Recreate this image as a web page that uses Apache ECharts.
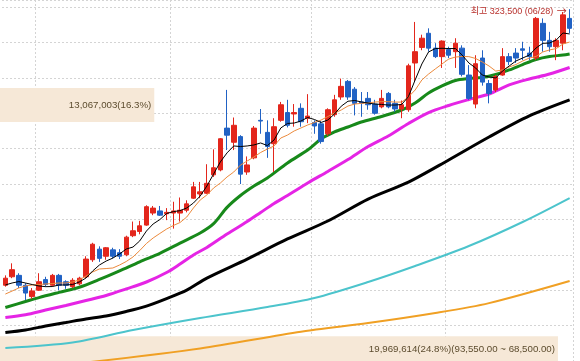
<!DOCTYPE html>
<html><head><meta charset="utf-8">
<script src="https://cdn.jsdelivr.net/npm/echarts@6/dist/echarts.min.js"></script>
<style>html,body{margin:0;padding:0;background:#fff;overflow:hidden}#c{width:580px;height:361px}</style>
</head><body><div id="c"></div>
<script>
// ---- categories (trading days) ----
const dates = [
'02/23','02/26','02/27','02/28','02/29',
'03/04','03/05','03/06','03/07','03/08','03/11','03/12','03/13','03/14','03/15','03/18','03/19','03/20','03/21','03/22','03/25','03/26','03/27','03/28','03/29',
'04/01','04/02','04/03','04/04','04/05','04/08','04/09','04/11','04/12','04/15','04/16','04/17','04/18','04/19','04/22','04/23','04/24','04/25','04/26','04/29','04/30',
'05/02','05/03','05/07','05/08','05/09','05/10','05/13','05/14','05/16','05/17','05/20','05/21','05/22','05/23','05/24','05/27','05/28','05/29','05/30','05/31',
'06/03','06/04','06/05','06/07','06/10','06/11','06/12','06/13','06/14','06/17','06/18','06/19','06/20','06/21','06/24','06/25','06/26','06/27','06/28'];

// ---- daily candles: [open, close, low, high] ----
const candles = [
[128500,133500,127500,135500],[134500,139500,133500,144000],[135500,128500,126500,137000],[128500,123000,118000,130000],[120500,124500,119000,126500],
[125000,131000,124500,137000],[132500,129000,127500,134500],[128500,135500,127500,136500],[135500,128500,125000,136500],[131000,128500,126000,132000],
[127500,132000,126500,133500],[129500,133500,128500,134500],[134500,147000,133500,149000],[146500,157500,145000,158500],[154000,147500,145000,156000],
[149000,155000,146500,155500],[153500,149000,147500,155000],[151500,149000,147000,154000],[150000,162500,149000,163500],[163500,167000,162500,173500],
[166500,170500,164500,174000],[171000,184000,170500,185000],[179500,183000,178000,184500],[181000,178000,177500,184500],[179000,180000,174500,183000],
[179500,181000,168500,187500],[179500,181500,173500,190500],[181500,186000,180000,188500],[190000,198000,189500,201500],[193000,194500,190000,201500],
[193500,200500,193000,214000],[206500,211500,205000,224500],[210000,232000,209000,232500],[239500,234500,224000,266500],[229500,241500,224000,247000],
[233500,207000,200000,234500],[208500,213500,206500,219500],[218500,239500,217500,241000],[245000,244500,235500,253000],[236500,226500,218500,245000],
[228500,240500,208500,246500],[245000,256000,244000,258000],[250500,241500,240000,259500],[249500,250500,240500,256500],[253500,244000,240500,257000],
[246500,248000,243000,263500],[243500,241000,235500,245000],[242500,230000,228500,244500],[235500,252500,234000,253500],[249000,259500,247500,263000],
[261500,269000,259500,274500],[272500,261500,259500,273500],[267000,257000,248500,268500],[258000,257000,247500,265000],[260500,256000,252500,265000],
[256500,250000,249000,259500],[254500,260500,253500,266500],[264000,254500,253500,265000],[257000,253000,251000,259500],[253000,256000,246500,259000],
[252500,283500,251000,285000],[285500,293500,272500,314500],[296500,303000,294500,305500],[306500,296000,293500,310000],[296000,290000,289000,299500],
[290000,301000,282000,301500],[295000,291000,289000,297000],[293500,299500,282000,303000],[296000,277500,276000,298000],[277000,260500,259500,284000],
[256500,285000,253500,291000],[289000,272000,269500,294500],[271000,264000,257000,273500],[266500,276000,265000,277000],[277000,290000,276500,296000],
[290000,286500,284000,292500],[292500,289000,285500,296000],[295500,294500,287500,300500],[292500,290000,287500,297000],[289000,317000,287500,318000],
[313500,301500,293500,317000],[301500,297000,293500,307500],[297000,301500,287500,303000],[299500,319500,294500,321500],[317000,310000,306500,323500]];

// ---- moving averages ----
const ma5 = [128700,130100,131100,130100,129000,128000,127500,127600,128700,128700,
129000,130800,133600,138600,142800,145600,147700,150600,154100,155500,
159800,166800,171800,174900,179200,180500,181200,183100,186600,191500,
198600,207100,215600,222000,226900,226500,226900,227600,229000,227200,
231100,239600,242800,243100,244500,247000,245600,243500,245200,249500,
255000,258500,259000,258000,257200,256500,256200,255800,255800,256200,
261700,273500,284800,293300,295700,295900,295700,295700,291100,285500,
282000,277000,275600,274900,279800,283400,286900,289000,291100,296100,
299400,299600,301700,306700,306000];
const ma10 = [122300,124400,126600,128000,128700,129000,129400,129700,130100,130100,
130800,132200,135000,137900,140000,140300,140700,142800,145300,148500,
153000,158000,161900,165100,168200,170700,172800,176700,183100,188700,
192300,197200,200700,205000,208500,213400,216300,219100,222300,224700,
226900,232500,234600,237500,239600,241700,243500,245200,247700,250200,
252300,255100,256500,257000,257200,257900,258200,258200,257900,257900,
261500,266400,273500,277700,281300,284800,288300,289700,290100,290000,
288700,286200,283400,279800,280600,282700,284400,286900,289000,290100,
293300,294700,295700,298900,300300];
const ma20 = [[0,112800],[3,117000],[5,119800],[8,123500],[11,127100],[14,132600],[17,138700],[20,145100],[23,151100],[26,158300],
[29,165400],[31,172000],[33,183500],[35,191900],[37,198600],[39,204300],[42,214900],[45,224000],[47,231800],[49,236800],
[51,240300],[53,243800],[56,247700],[59,252300],[61,257200],[63,264300],[65,269300],[67,273100],[69,274500],[71,275300],
[73,277400],[75,280600],[77,284400],[79,288000],[81,290100],[83,291100],[84,291900]];
const ma60 = [[0,105700],[3,107700],[6,111000],[9,114200],[12,117700],[15,121300],[18,125900],[21,130800],[24,137500],[26,143500],
[28,149900],[30,155200],[33,164700],[36,173500],[38,179900],[40,186300],[42,191900],[45,200700],[48,208900],[51,217300],
[54,226500],[57,233900],[60,242800],[63,250500],[66,255500],[69,259700],[72,263600],[75,270000],[78,274200],[81,277700],[84,282300]];
const ma120 = [[0,95100],[3,96900],[6,99700],[9,102200],[12,104700],[15,106800],[18,110000],[21,113800],[24,119100],[27,125100],
[30,133600],[36,147000],[42,161200],[48,173900],[54,189400],[60,201400],[66,217000],[72,233200],[78,248100],[84,259400]];
const ma240 = [[0,84200],[10,88100],[19,96900],[29,105400],[39,113100],[46,119500],[54,130800],[61,142100],[69,156200],[77,173200],[84,190100]];
const ma480 = [[12,73900],[29,83900],[44,95700],[54,101800],[64,108900],[72,115900],[84,131500]];

// ---- price-volume bands (매물대) ----
const bandLow = [243850, 68500];
const bandHigh = [268900, 93550];
const bandVolume = [13067003, 19969614];
const bandPct = [16.3, 24.8];
const bandLen = [26.6, 96.2];   // bar length, % of plot width
const bandShowRange = [false, true];

function fmt(n, d) {
  const s = Number(n).toFixed(d || 0);
  const p = s.split('.');
  p[0] = p[0].replace(/\B(?=(\d{3})+(?!\d))/g, ',');
  return p.join('.');
}

let hiIdx = 0;
candles.forEach((c, i) => { if (c[3] > candles[hiIdx][3]) hiIdx = i; });

const bandData = bandLow.map((lo, i) => [lo, bandHigh[i], bandLen[i], i]);

const chart = echarts.init(document.getElementById('c'), null, {renderer: 'canvas'});
const dotted = {color: '#d4d4d4', type: [2, 2], width: 1};
const YMIN = 75000, YMAX = 330000;

const lineS = (name, data, color, width, smooth, z) => ({
  type: 'line', name, data, xAxisIndex: 0, yAxisIndex: 0, showSymbol: false, symbol: 'none',
  smooth: smooth, lineStyle: {color, width}, z: z, silent: true, animation: false, clip: true
});

chart.setOption({
  animation: false,
  backgroundColor: '#ffffff',
  grid: [
    {left: 2, right: 7, top: 0, bottom: 0},
    {left: 0, right: 0, top: 0, bottom: 0}
  ],
  xAxis: [
    {type: 'category', data: dates, gridIndex: 0, boundaryGap: true,
     axisLine: {show: false}, axisTick: {show: false}, axisLabel: {show: false},
     splitLine: {show: true, lineStyle: dotted,
       interval: (i) => i > 0 && dates[i].slice(0, 2) !== dates[i - 1].slice(0, 2)}},
    {type: 'value', gridIndex: 1, min: 0, max: 100, show: false}
  ],
  yAxis: [
    {type: 'value', gridIndex: 0, min: YMIN, max: YMAX, interval: 25000,
     axisLine: {show: false}, axisTick: {show: false}, axisLabel: {show: false},
     splitLine: {show: true, lineStyle: dotted}},
    {type: 'value', gridIndex: 1, min: YMIN, max: YMAX, show: false, splitLine: {show: false}}
  ],
  series: [
    {type: 'custom', xAxisIndex: 1, yAxisIndex: 1, data: bandData, z: 1, silent: true,
     renderItem: function (params, api) {
       const lo = api.value(0), hi = api.value(1), len = api.value(2), k = api.value(3);
       const p0 = api.coord([0, hi]);
       const p1 = api.coord([len, lo]);
       let label = fmt(bandVolume[k]) + '(' + bandPct[k].toFixed(1) + '%)';
       if (bandShowRange[k]) label += '(' + fmt(bandHigh[k], 2) + ' ~ ' + fmt(bandLow[k], 2) + ')';
       const top = p0[1] + 1.5, bot = Math.min(p1[1], 361);
       return {type: 'group', children: [
         {type: 'rect', shape: {x: p0[0], y: top, width: p1[0] - p0[0], height: p1[1] - top},
          style: {fill: '#f6e8d7'}},
         {type: 'text', style: {text: label, x: p1[0] - 3, y: (top + bot) / 2 + 0.5,
          align: 'right', verticalAlign: 'middle', fill: '#5c4c2e',
          font: '9.7px "Liberation Sans", Arial, sans-serif'}}
       ]};
     }},
    lineS('MA480', ma480, '#f0a024', 2, 0.3, 3),
    lineS('MA240', ma240, '#4cc4cc', 2, 0.3, 3),
    lineS('MA120', ma120, '#000000', 3, 0.3, 3),
    lineS('MA60', ma60, '#e524e5', 3, 0.3, 3),
    lineS('MA20', ma20, '#17891a', 3, 0.3, 3),
    {type: 'candlestick', name: 'price', data: candles, xAxisIndex: 0, yAxisIndex: 0, barWidth: 5, z: 4,
     silent: true,
     itemStyle: {color: '#e3261c', color0: '#2162c4', borderColor: '#e3261c', borderColor0: '#2162c4', borderWidth: 1},
     markPoint: {silent: true, symbol: 'circle', symbolSize: 0, z: 10,
       data: [{coord: [hiIdx, candles[hiIdx][3]], value: candles[hiIdx][3]}],
       label: {show: true, position: 'left', distance: 3, offset: [0, 2],
         formatter: () => '{t|최고 ' + fmt(candles[hiIdx][3]) + ' (' + dates[hiIdx] + ')} {a|→}',
         rich: {
           t: {color: '#b8302c', fontSize: 9, fontFamily: '"Liberation Sans", "Noto Sans CJK KR", sans-serif'},
           a: {color: '#b8302c', fontSize: 10, fontFamily: '"Noto Sans CJK KR", "DejaVu Sans", sans-serif'}
         }}}},
    lineS('MA10', ma10, '#ec8a3c', 1, false, 5),
    lineS('MA5', ma5, '#000000', 1, false, 6)
  ]
});
</script>
</body></html>
